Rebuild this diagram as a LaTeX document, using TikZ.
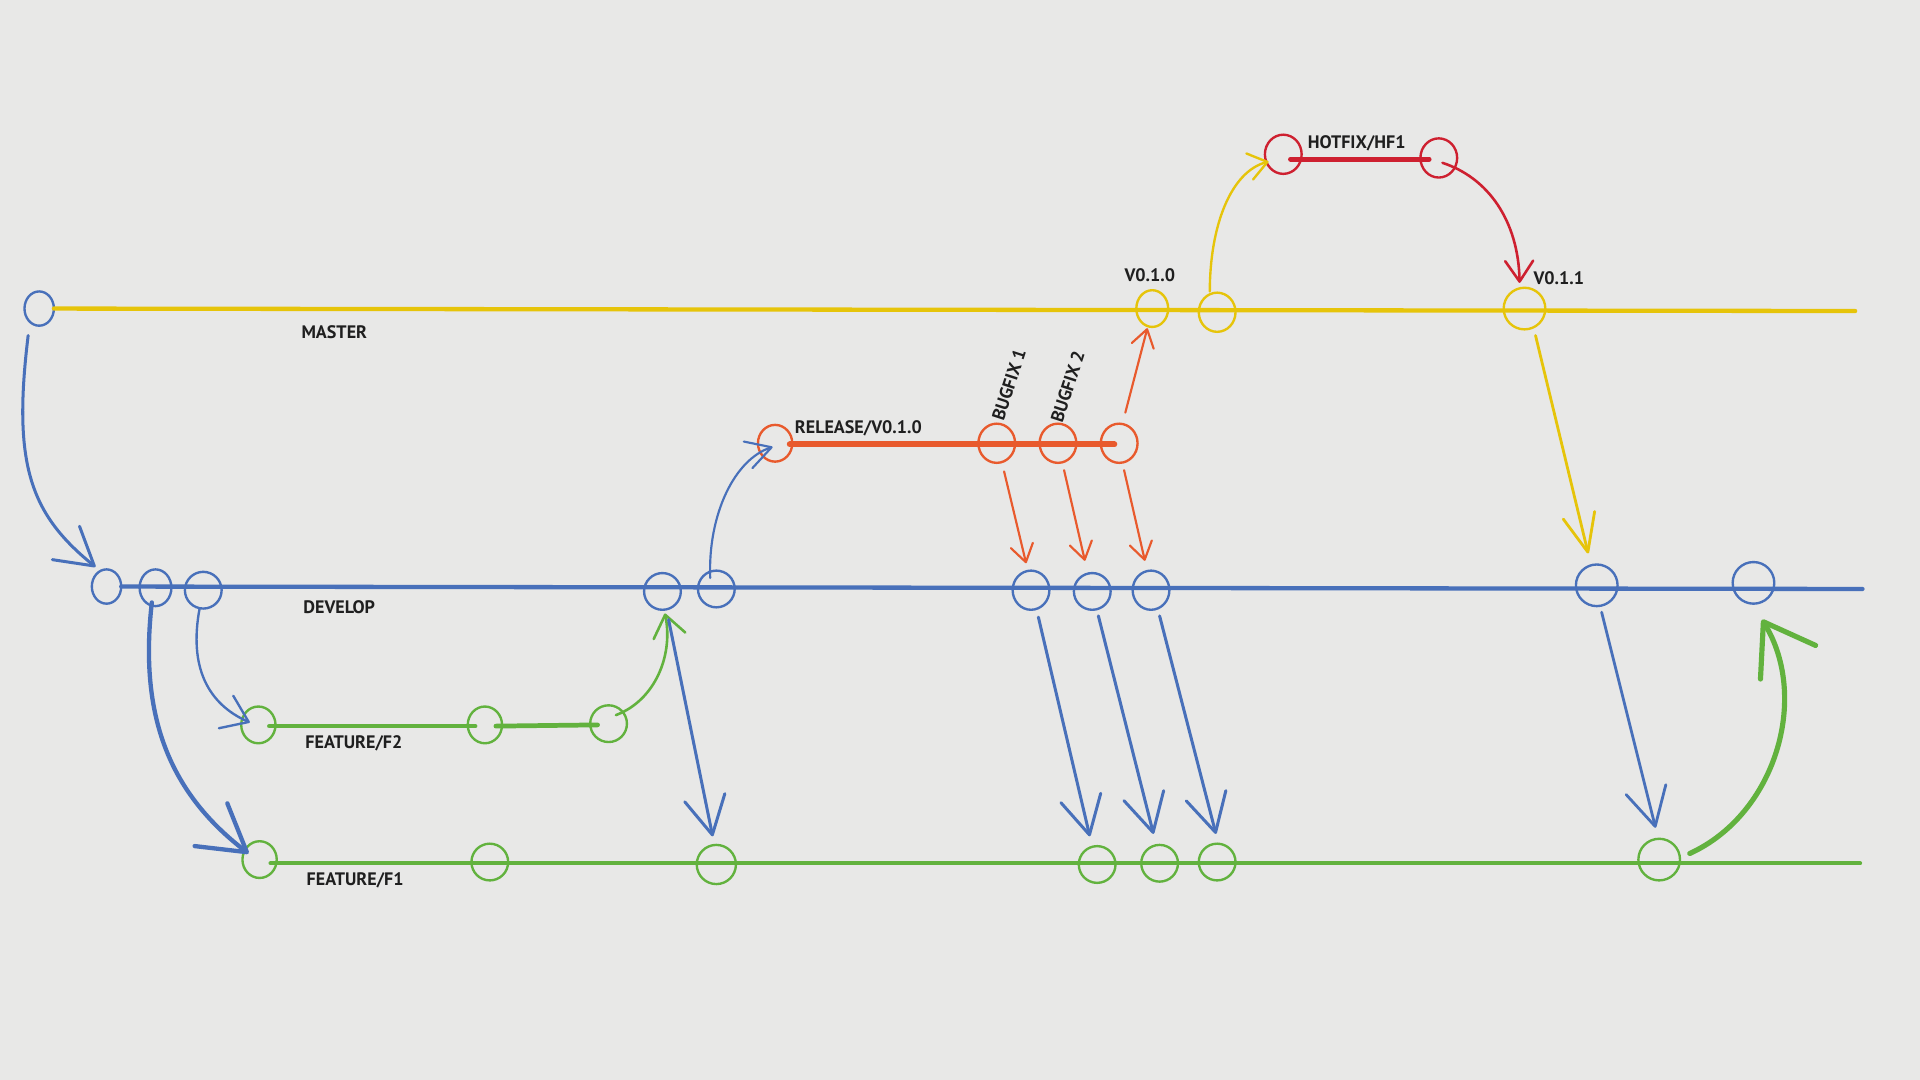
\documentclass[tikz,border=0pt]{standalone}
\usepackage{fontspec}
\setmainfont{PT Sans}
\usetikzlibrary{arrows.meta,shapes.geometric,calc}
\definecolor{paper}{RGB}{232,232,231}
\definecolor{cYel}{RGB}{230,196,10}
\definecolor{cBlue}{RGB}{72,112,186}
\definecolor{cGreen}{RGB}{98,178,62}
\definecolor{cOrange}{RGB}{232,90,45}
\definecolor{cRed}{RGB}{206,32,48}
\begin{document}
\begin{tikzpicture}[x=0.2mm,y=-0.2mm,
  commit/.style={ellipse, draw, inner sep=0pt, outer sep=0pt, line width=1.1pt},
  lbl/.style={font=\bfseries\fontsize{8.4}{10}\selectfont, text=black!88, inner sep=0pt},
  branch/.style={line width=2pt, line cap=round},
  conn/.style={line cap=round},
  tA1/.style={-{Straight Barb[length=17pt,width=20pt,round]}},
  tA2/.style={-{Straight Barb[length=21pt,width=25pt,round]}},
  tA3/.style={-{Straight Barb[length=11.5pt,width=16.5pt,round]}},
  tA4/.style={-{Straight Barb[length=11.5pt,width=13pt,round]}},
  tA5/.style={-{Straight Barb[length=10pt,width=15pt,round]}},
  tA6/.style={-{Straight Barb[length=17.6pt,width=19pt,round]}},
  tO/.style={-{Straight Barb[length=8pt,width=10.5pt,round]}},
  tA7/.style={-{Straight Barb[length=8.5pt,width=12.5pt,round]}},
  tA8/.style={-{Straight Barb[length=9.6pt,width=13pt,round]}},
  tY1/.style={-{Straight Barb[length=17.6pt,width=15pt,round]}},
  tA9/.style={-{Straight Barb[length=22pt,width=30pt,round]}}
]
\fill[paper] (0,0) rectangle (1568,882);
\useasboundingbox (0,0) rectangle (1568,882);

% free ends of branch lines
\coordinate (mEnd) at (1515,254);
\coordinate (dEnd) at (1521,481);
\coordinate (f1End) at (1519,705);

% commits
\node[commit, draw=cBlue, minimum width=4.8mm, minimum height=5.6mm] (m0) at (32,252) {};
\node[commit, draw=cYel, minimum width=5.2mm, minimum height=6mm] (v010) at (941,252) {};
\node[commit, draw=cYel, minimum width=6mm, minimum height=6.4mm] (m2) at (994,255) {};
\node[commit, draw=cYel, minimum width=6.8mm, minimum height=6.8mm] (v011) at (1245,252) {};
\node[commit, draw=cRed, minimum width=6mm, minimum height=6.4mm] (h1) at (1048,126) {};
\node[commit, draw=cRed, minimum width=6mm, minimum height=6.4mm] (h2) at (1175,129) {};
\node[commit, draw=cOrange, minimum width=5.6mm, minimum height=6mm] (r1) at (633,362) {};
\node[commit, draw=cOrange, minimum width=6mm, minimum height=6.4mm] (r2) at (814,362) {};
\node[commit, draw=cOrange, minimum width=6mm, minimum height=6.4mm] (r3) at (864,362) {};
\node[commit, draw=cOrange, minimum width=6mm, minimum height=6.4mm] (r4) at (914,362) {};
\node[commit, draw=cBlue, minimum width=4.8mm, minimum height=5.6mm] (d1) at (87,479) {};
\node[commit, draw=cBlue, minimum width=5.2mm, minimum height=6mm] (d2) at (127,480) {};
\node[commit, draw=cBlue, minimum width=6mm, minimum height=6mm] (d3) at (166,482) {};
\node[commit, draw=cBlue, minimum width=6mm, minimum height=6mm] (d4) at (541,483) {};
\node[commit, draw=cBlue, minimum width=6mm, minimum height=6mm] (d5) at (585,481) {};
\node[commit, draw=cBlue, minimum width=6mm, minimum height=6.4mm] (d6) at (842,482) {};
\node[commit, draw=cBlue, minimum width=6mm, minimum height=6mm] (d7) at (892,483) {};
\node[commit, draw=cBlue, minimum width=6mm, minimum height=6.4mm] (d8) at (940,482) {};
\node[commit, draw=cBlue, minimum width=6.8mm, minimum height=6.8mm] (d9) at (1304,478) {};
\node[commit, draw=cBlue, minimum width=6.8mm, minimum height=6.8mm] (d10) at (1432,476) {};
\node[commit, draw=cGreen, minimum width=5.6mm, minimum height=6mm] (f2a) at (211,592) {};
\node[commit, draw=cGreen, minimum width=5.6mm, minimum height=6mm] (f2b) at (396,592) {};
\node[commit, draw=cGreen, minimum width=6mm, minimum height=6mm] (f2c) at (497,591) {};
\node[commit, draw=cGreen, minimum width=5.6mm, minimum height=6mm] (f1a) at (212,702) {};
\node[commit, draw=cGreen, minimum width=6mm, minimum height=6mm] (f1b) at (400,704) {};
\node[commit, draw=cGreen, minimum width=6.4mm, minimum height=6.4mm] (f1c) at (585,706) {};
\node[commit, draw=cGreen, minimum width=6mm, minimum height=6mm] (f1d) at (896,706) {};
\node[commit, draw=cGreen, minimum width=6mm, minimum height=6mm] (f1e) at (947,705) {};
\node[commit, draw=cGreen, minimum width=6mm, minimum height=6mm] (f1f) at (994,704) {};
\node[commit, draw=cGreen, minimum width=6.8mm, minimum height=6.8mm] (f1g) at (1355,702) {};

% branch lines
\draw[branch, cYel] (m0.east) -- (mEnd);
\draw[branch, cBlue] (d1) -- (dEnd);
\draw[branch, cGreen, line width=2.2pt] ($(f2a)+(9,1)$) -- ($(f2b)+(-8,1)$);
\draw[branch, cGreen, line width=2.2pt] ($(f2b)+(9,1)$) -- ($(f2c)+(-9,1)$);
\draw[branch, cGreen] ($(f1a)+(9,3)$) -- (f1End);
\draw[branch, cOrange, line width=2.8pt] ($(r1)+(12,1)$) -- ($(r4)+(-4,1)$);
\draw[branch, cRed, line width=2.4pt] ($(h1)+(6,4)$) -- ($(h2)+(-8,1)$);

% labels
\node[lbl] (lMaster) at (273,271) {MASTER};
\node[lbl] (lDevelop) at (277,496) {DEVELOP};
\node[lbl] (lF2) at (289,607) {FEATURE/F2};
\node[lbl] (lF1) at (290,719) {FEATURE/F1};
\node[lbl] (lRel) at (701,350) {RELEASE/V0.1.0};
\node[lbl, rotate=72] (lB1) at (824,314) {BUGFIX 1};
\node[lbl, rotate=72] (lB2) at (872,316) {BUGFIX 2};
\node[lbl] (lV010) at (939,225) {V0.1.0};
\node[lbl] (lHF) at (1108,117) {HOTFIX/HF1};
\node[lbl] (lV011) at (1273,227) {V0.1.1};

% connectors
\draw[conn, cBlue, line width=1.4pt, tA1] ($(m0)+(-9,22)$) .. controls (10,380) and (25,420) .. ($(d1)+(-9,-16)$);
\draw[conn, cBlue, line width=2pt, tA2] ($(d2)+(-3,12)$) .. controls (114,580) and (135,645) .. ($(f1a)+(-9,-5)$);
\draw[conn, cBlue, line width=1.1pt, tA3] ($(d3)+(-3,15)$) .. controls (154,545) and (170,575) .. ($(f2a)+(-7,-2)$);
\draw[conn, cBlue, line width=1pt, tA4] ($(d5)+(-5,-9)$) .. controls (578,420) and (600,375) .. ($(r1)+(-2,3)$);
\draw[conn, cGreen, line width=1.2pt, tA5] ($(f2c)+(6,-7)$) .. controls (535,572) and (550,535) .. ($(d4)+(2,18)$);
\draw[conn, cBlue, line width=1.4pt, tA6] ($(d4)+(5,23)$) -- ($(f1c)+(-3,-23)$);
\draw[conn, cBlue, line width=1.4pt, tA6] ($(d6)+(6,22)$) -- ($(f1d)+(-6,-23)$);
\draw[conn, cBlue, line width=1.4pt, tA6] ($(d7)+(5,20)$) -- ($(f1e)+(-5,-24)$);
\draw[conn, cBlue, line width=1.4pt, tA6] ($(d8)+(7,21)$) -- ($(f1f)+(-1,-23)$);
\draw[conn, cOrange, line width=1pt, tO] ($(r2)+(6,23)$) -- ($(d6)+(-4,-22)$);
\draw[conn, cOrange, line width=1pt, tO] ($(r3)+(5,22)$) -- ($(d7)+(-6,-25)$);
\draw[conn, cOrange, line width=1pt, tO] ($(r4)+(4,22)$) -- ($(d8)+(-5,-24)$);
\draw[conn, cOrange, line width=1pt, tO] ($(r4)+(5,-25)$) -- ($(v010)+(-4,16)$);
\draw[conn, cYel, line width=1.1pt, tA7] ($(m2)+(-6,-17)$) .. controls (988,185) and (1005,140) .. ($(h1)+(-12,6)$);
\draw[conn, cRed, line width=1.2pt, tA8] ($(h2)+(3,4)$) .. controls (1215,145) and (1240,180) .. ($(v011)+(-4,-21)$);
\draw[conn, cYel, line width=1.3pt, tY1] ($(v011)+(9,22)$) -- ($(d9)+(-7,-26)$);
\draw[conn, cBlue, line width=1.3pt, tA6] ($(d9)+(4,22)$) -- ($(f1g)+(-3,-26)$);
\draw[conn, cGreen, line width=2.4pt, tA9] ($(f1g)+(25,-5)$) .. controls (1450,665) and (1478,570) .. ($(d10)+(7,30)$);
\end{tikzpicture}
\end{document}
